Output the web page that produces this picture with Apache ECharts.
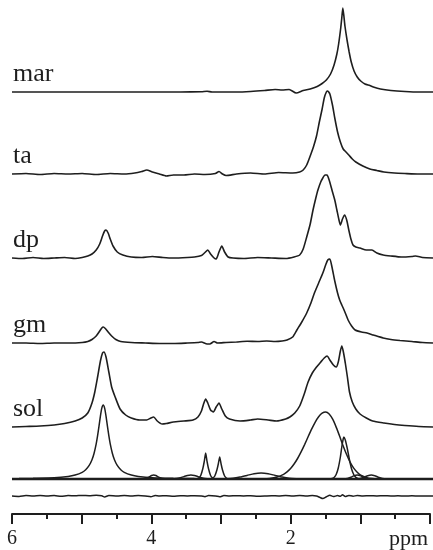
<!DOCTYPE html>
<html>
<head>
<meta charset="utf-8">
<script src="https://cdn.jsdelivr.net/npm/echarts@6/dist/echarts.min.js"></script>
<style>html,body{margin:0;padding:0;background:#fff}#c{width:433px;height:550px}</style>
</head>
<body>
<div id="c"></div>
<script>
// ---- data (ppm, intensity) ----
const traceNames = ['mar', 'ta', 'dp', 'gm', 'sol'];
const xTickLabels = [6, 4, 2];
const xUnit = 'ppm';

const marData = [[6.0,0],[5.5,0],[5.0,0],[4.5,0],[4.0,0],[3.6,0],[3.3,0.3],[3.22,0.8],[3.15,0],[2.8,0],[2.6,0.5],[2.4,1.5],[2.25,2.5],[2.15,2],[2.05,2.5],[1.95,-1],[1.85,1.5],[1.75,3],[1.65,5.5],[1.58,8.5],[1.52,12],[1.46,18],[1.41,27],[1.37,38],[1.345,48],[1.315,64],[1.3,74],[1.285,84],[1.27,76],[1.255,66],[1.225,52],[1.195,40],[1.165,30],[1.125,21],[1.08,15],[1.03,11],[0.97,8],[0.9,6.5],[0.85,5],[0.75,3],[0.6,1.5],[0.4,0.5],[0.2,0],[0,0]];

const taData = [[6.0,0],[5.8,0.5],[5.6,-0.5],[5.4,0.5],[5.2,0],[5.0,0.5],[4.8,-0.5],[4.6,0.5],[4.4,0],[4.25,1],[4.15,2.5],[4.08,4],[4.0,2],[3.9,0],[3.8,-2],[3.7,-1],[3.55,-1],[3.4,0],[3.25,-0.5],[3.1,0.5],[3.05,2.5],[3.0,0],[2.95,-1.5],[2.8,0],[2.6,1],[2.4,0],[2.2,1.5],[2.0,1],[1.9,2],[1.85,4],[1.8,9],[1.75,18],[1.7,28],[1.66,38],[1.62,52],[1.58,65],[1.55,76],[1.52,82],[1.5,83],[1.47,80],[1.43,68],[1.4,56],[1.36,42],[1.32,32],[1.28,25],[1.24,22],[1.2,19],[1.15,15],[1.1,12],[1.0,8],[0.9,5],[0.8,3.5],[0.7,2],[0.55,1],[0.4,0.5],[0.2,0],[0,0]];

const dpData = [[6.0,0],[5.85,-0.5],[5.7,0.5],[5.55,-0.5],[5.4,0],[5.25,0.5],[5.1,-0.5],[5.0,0.5],[4.92,2],[4.86,4],[4.8,8],[4.75,14],[4.71,22],[4.68,27],[4.66,28],[4.63,25],[4.6,19],[4.56,12],[4.5,6],[4.42,3],[4.3,1],[4.15,0.5],[4.0,1.5],[3.85,0.5],[3.7,0],[3.5,0.5],[3.4,1],[3.3,2.5],[3.25,5.5],[3.21,8],[3.17,4],[3.12,0],[3.09,-1],[3.05,6],[3.01,12],[2.97,6],[2.92,1],[2.85,0],[2.7,-0.5],[2.5,0.5],[2.3,0],[2.1,-0.5],[1.98,1],[1.9,3],[1.85,9],[1.8,21],[1.75,34],[1.71,48],[1.67,60],[1.64,68],[1.6,76],[1.57,80],[1.54,83],[1.51,83],[1.48,78],[1.44,68],[1.4,58],[1.37,48],[1.34,38],[1.32,33],[1.29,39],[1.26,43],[1.23,38],[1.2,28],[1.17,19],[1.14,13],[1.1,11],[1.04,10],[0.95,8],[0.87,8],[0.8,5],[0.71,3],[0.6,2],[0.45,1],[0.3,1.5],[0.25,2],[0.15,0.5],[0,0]];

const gmData = [[6.0,0],[5.8,0],[5.6,-0.5],[5.4,0],[5.2,0],[5.0,0.5],[4.92,1.5],[4.86,3.5],[4.8,7],[4.75,12],[4.72,15],[4.7,16],[4.67,14.5],[4.63,11],[4.58,7],[4.52,3.5],[4.45,1.5],[4.3,0.5],[4.1,0],[3.9,-0.5],[3.7,-0.5],[3.5,0],[3.35,0.5],[3.3,1],[3.22,-1],[3.18,-1],[3.12,1.5],[3.07,0],[2.95,0.5],[2.8,1],[2.65,1.7],[2.5,1.5],[2.37,2],[2.25,1.5],[2.15,2],[2.08,3],[2.0,6],[1.94,13],[1.87,21],[1.8,30],[1.74,40],[1.69,50],[1.63,60],[1.57,70],[1.53,78],[1.5,83],[1.47,84],[1.44,76],[1.4,62],[1.36,50],[1.33,43],[1.3,38],[1.28,35],[1.25,30],[1.21,23],[1.16,17],[1.11,13],[1.02,11],[0.94,10],[0.85,8],[0.71,5],[0.6,3.5],[0.47,2.5],[0.3,1.5],[0.15,0.5],[0,0]];

const solData = [[6.0,0],[5.8,0.5],[5.6,1],[5.4,2],[5.25,3.5],[5.1,6],[5.0,9],[4.92,14],[4.86,24],[4.82,35],[4.78,50],[4.74,66],[4.71,74],[4.69,75],[4.66,70],[4.62,55],[4.58,40],[4.53,30],[4.46,18],[4.38,12],[4.3,9],[4.18,7],[4.08,7],[4.02,9],[3.98,10],[3.93,6],[3.86,3],[3.8,3.5],[3.7,5],[3.55,6],[3.42,7],[3.35,10],[3.3,16],[3.27,23],[3.24,28],[3.21,24],[3.17,17],[3.13,15],[3.09,20],[3.05,24],[3.01,18],[2.96,11],[2.9,8],[2.75,6],[2.6,7],[2.5,8],[2.35,7],[2.23,6],[2.1,8],[2.04,10],[1.97,14],[1.9,21],[1.84,32],[1.78,45],[1.72,54],[1.66,60],[1.6,65],[1.55,69],[1.51,71],[1.47,67],[1.42,62],[1.38,60],[1.35,65],[1.32,76],[1.3,81],[1.28,76],[1.25,64],[1.22,50],[1.19,35],[1.15,25],[1.1,18],[1.04,13],[0.95,9],[0.86,6],[0.7,4],[0.55,2.5],[0.4,1.5],[0.2,0.5],[0,0]];

// fitted components
const fit470 = [[5.9,0.4],[5.7,0.7],[5.4,1.3],[5.2,2.6],[5.1,4.0],[5.0,6.7],[4.95,9.3],[4.9,13.6],[4.86,19.3],[4.83,25.8],[4.8,35.1],[4.78,43.3],[4.76,52.9],[4.74,62.9],[4.72,70.9],[4.7,74],[4.68,70.9],[4.66,62.9],[4.64,52.9],[4.62,43.3],[4.6,35.1],[4.57,25.8],[4.54,19.3],[4.5,13.6],[4.45,9.3],[4.4,6.7],[4.3,4.0],[4.2,2.6],[4.0,1.3],[3.7,0.7],[3.4,0.4]];
const fit398 = [[4.18,0],[4.1,0.6],[4.05,1.9],[4.01,3.5],[3.98,4],[3.95,3.5],[3.91,1.9],[3.86,0.6],[3.78,0]];
const fit345 = [[3.75,0],[3.65,0.5],[3.6,1.3],[3.55,2.4],[3.5,3.5],[3.45,4],[3.4,3.5],[3.35,2.4],[3.3,1.3],[3.25,0.5],[3.15,0]];
const fit324 = [[3.37,0],[3.34,0.8],[3.31,3.5],[3.28,10.5],[3.26,17.5],[3.24,26],[3.22,17.5],[3.2,10.5],[3.17,3.5],[3.14,0.8],[3.11,0]];
const fit304 = [[3.17,0],[3.14,0.7],[3.11,3],[3.08,9],[3.06,15],[3.04,22],[3.02,15],[3.0,9],[2.97,3],[2.94,0.7],[2.91,0]];
const fit245 = [[3.05,0.1],[2.95,0.3],[2.85,0.8],[2.75,2],[2.65,3.6],[2.55,5.3],[2.45,6],[2.35,5.3],[2.25,3.6],[2.15,2],[2.05,0.8],[1.95,0.3],[1.85,0.1]];
const fit153 = [[2.43,0.2],[2.33,0.6],[2.23,1.8],[2.13,4.7],[2.08,7.2],[2.03,10.5],[1.98,15.0],[1.93,20.5],[1.88,27.1],[1.83,34.4],[1.78,42.2],[1.73,49.8],[1.68,56.7],[1.63,62.2],[1.58,65.8],[1.53,67],[1.48,65.1],[1.43,59.8],[1.38,51.9],[1.33,42.7],[1.28,32.9],[1.23,24.2],[1.18,16.7],[1.13,10.9],[1.08,6.8],[1.03,3.9],[0.93,1.1],[0.83,0.3]];
const fit127 = [[1.45,0.2],[1.41,1.5],[1.38,4.5],[1.35,11],[1.32,22],[1.3,32],[1.28,40],[1.27,42],[1.25,39],[1.22,30],[1.19,19],[1.16,10],[1.13,4.5],[1.1,1.6],[1.06,0.3]];
const fit108 = [[1.3,0],[1.22,0.5],[1.17,1.7],[1.13,3.1],[1.08,4],[1.03,3.1],[0.99,1.7],[0.94,0.5],[0.86,0]];
const fit088 = [[1.12,0],[1.04,0.5],[0.98,1.8],[0.93,3.3],[0.88,4],[0.83,3.3],[0.78,1.8],[0.72,0.5],[0.64,0]];
const fitZero = [[6,0],[0,0]];

const residualData = [[6.0,0],[5.9,-0.4],[5.8,0.4],[5.7,0],[5.6,0.5],[5.5,0],[5.4,0.4],[5.3,-0.2],[5.2,0.4],[5.1,0.2],[5.0,0.6],[4.9,0.3],[4.8,0.8],[4.72,0.2],[4.68,-1],[4.62,0.5],[4.5,0],[4.4,0.4],[4.3,0],[4.2,0.5],[4.1,0],[4.02,-0.8],[3.96,0.6],[3.9,0],[3.8,0.3],[3.7,-0.2],[3.6,0.3],[3.5,0],[3.4,0.3],[3.3,0],[3.25,-0.7],[3.2,0.4],[3.1,0],[3.04,-0.8],[2.98,0.4],[2.9,0],[2.8,0.3],[2.7,0],[2.6,0.3],[2.5,-0.2],[2.4,0],[2.3,0.3],[2.2,0],[2.1,0.4],[2.0,0],[1.9,0.4],[1.8,0],[1.72,0.4],[1.66,0],[1.61,-1.5],[1.57,-2.5],[1.52,-0.8],[1.47,0.8],[1.42,-0.6],[1.36,0.4],[1.32,-0.3],[1.29,1.2],[1.25,-0.6],[1.2,0.6],[1.14,-0.3],[1.08,0.6],[1.0,0],[0.9,0.3],[0.8,0],[0.7,0.3],[0.6,0],[0.5,0.2],[0.4,0],[0.3,0.2],[0.2,0],[0,0]];

// ---- layout ----
const INK = '#1e1e1e';
const SERIF = '"Liberation Serif", "DejaVu Serif", serif';
const baselines = [92, 174, 258, 343, 427];   // pixel baselines of the stacked traces
const fitBase = 479, resBase = 496, axisY = 514;
const UP = 90, DOWN = 10;

const grids = [], xAxes = [], yAxes = [], series = [];
function addPanel(base) {
  const gi = grids.length;
  grids.push({ left: 12, right: 0, top: base - UP, height: UP + DOWN });
  xAxes.push({ gridIndex: gi, type: 'value', min: 0, max: 6, inverse: true, show: false });
  yAxes.push({ gridIndex: gi, type: 'value', min: -DOWN, max: UP, show: false });
  return gi;
}
function line(gi, data, width) {
  series.push({
    type: 'line', xAxisIndex: gi, yAxisIndex: gi, data: data,
    showSymbol: false, smooth: 0.2, silent: true, animation: false,
    lineStyle: { color: INK, width: width || 1.6 }
  });
}
const traces = [marData, taData, dpData, gmData, solData];
traces.forEach((d, i) => { const gi = addPanel(baselines[i]); line(gi, d); });
const fg = addPanel(fitBase);
[fit470, fit398, fit345, fit324, fit304, fit245, fit153, fit127, fit108, fit088].forEach(d => line(fg, d, 1.5));
line(fg, fitZero, 2.6);
const rg = addPanel(resBase);
line(rg, residualData, 1.5);

// axis panel
const ag = grids.length;
grids.push({ left: 12, right: 0, top: axisY - 20, height: 20 });
xAxes.push({
  gridIndex: ag, type: 'value', min: 0, max: 6, inverse: true, interval: 1, position: 'bottom',
  axisLine: { show: true, onZero: false, lineStyle: { color: INK, width: 2 } },
  axisTick: { show: true, inside: false, length: 10, lineStyle: { color: INK, width: 2 } },
  minorTick: { show: true, splitNumber: 2, length: 5, lineStyle: { color: INK, width: 2 } },
  splitLine: { show: false }, minorSplitLine: { show: false },
  axisLabel: {
    show: true, margin: 15, color: INK, fontFamily: SERIF, fontSize: 20,
    showMinLabel: true, showMaxLabel: true,
    formatter: v => xTickLabels.includes(v) ? String(v) : ''
  }
});
yAxes.push({ gridIndex: ag, type: 'value', min: 0, max: 1, show: false });
series.push({ type: 'line', xAxisIndex: ag, yAxisIndex: ag, data: [], silent: true });

const graphic = traceNames.map((t, i) => ({
  type: 'text', left: 13, top: baselines[i] - 31,
  style: { text: t, font: '26px ' + SERIF, fill: INK }
}));
graphic.push({
  type: 'text', left: 389, top: axisY + 14,
  style: { text: xUnit, font: '22px ' + SERIF, fill: INK }
});

const chart = echarts.init(document.getElementById('c'), null, { renderer: 'canvas' });
chart.setOption({
  animation: false,
  backgroundColor: '#fff',
  grid: grids, xAxis: xAxes, yAxis: yAxes, series: series, graphic: graphic
});
</script>
</body>
</html>
